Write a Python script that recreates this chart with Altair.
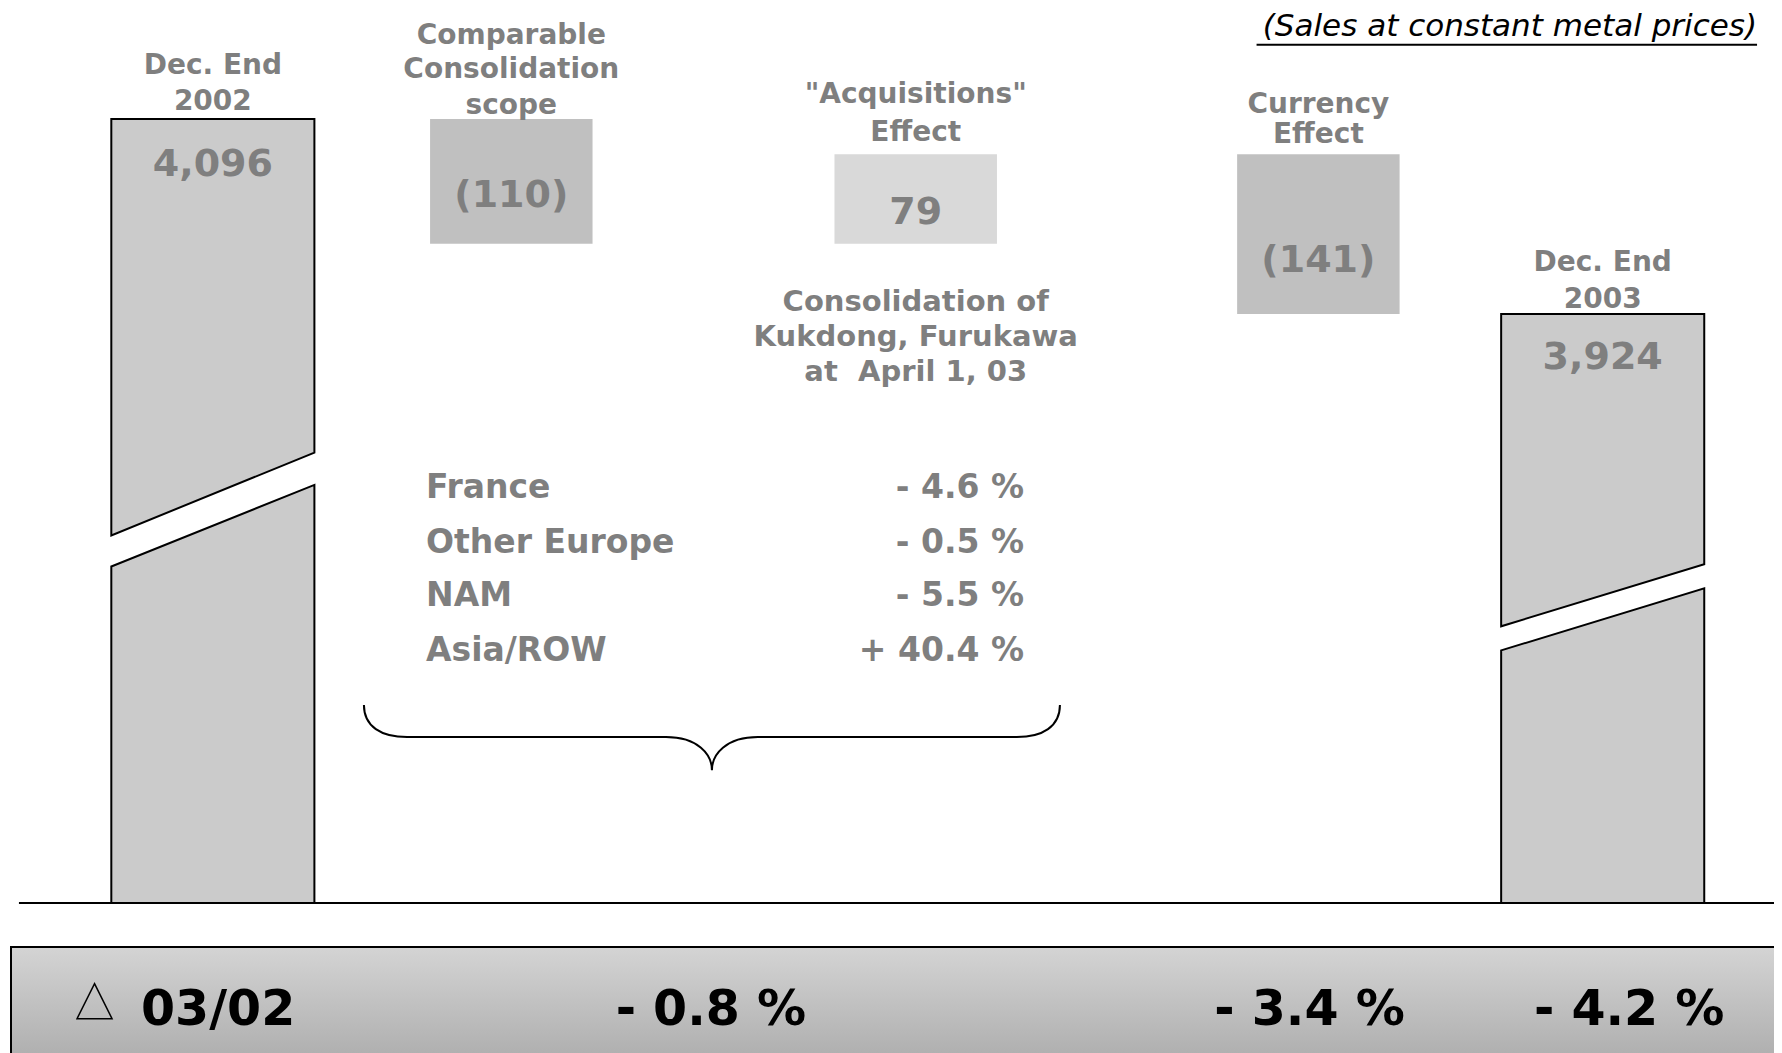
import altair as alt
import pandas as pd

# ---------------- data ----------------
steps = ["Dec. End 2002", "Comparable Consolidation scope", "\"Acquisitions\" Effect",
         "Currency Effect", "Dec. End 2003"]
kinds = ["total", "delta", "delta", "delta", "total"]
amounts = [4096, -110, 79, -141, 3924]
value_labels = ["4,096", "(110)", "79", "(141)", "3,924"]
step_label_lines = [["Dec. End", "2002"],
                    ["Comparable", "Consolidation", "scope"],
                    ['"Acquisitions"', "Effect"],
                    ["Currency", "Effect"],
                    ["Dec. End", "2003"]]
note_lines = ["Consolidation of", "Kukdong, Furukawa", "at\u00a0 April 1, 03"]
regions = ["France", "Other Europe", "NAM", "Asia/ROW"]
region_growth = [-4.6, -0.5, -5.5, 40.4]
delta_symbol_label = "03/02"
band_values = ["- 0.8 %", "- 3.4 %", "- 4.2 %"]
subtitle = "(Sales at constant metal prices)"

# ---------------- layout / style ----------------
W, H = 1766, 1045
PX_PER_UNIT = 1.133
Y_MAX = 4194.0
Y_MIN = Y_MAX - H / PX_PER_UNIT         # visible value range of the (truncated) axis
X_MAX = 100
BASE = 3404.1                           # value sitting on the drawn base line
x_center = [11.6, 28.5, 51.4, 74.2, 90.3]   # % of plot width
half_w = {"total": 5.75, "delta": 4.6}
fills = ["#cbcbcb", "#c0c0c0", "#d9d9d9", "#c0c0c0", "#cbcbcb"]
# axis-break cut lines for the two total bars: (upper piece bottom L/R), (lower piece top L/R)
breaks = {0: ((3728.5, 3801.6), (3701.1, 3773.1)), 4: ((3648.3, 3703.1), (3627.0, 3681.8))}
label_y = [[4143.2, 4110.6], [4169.4, 4139.4, 4107.6], [4117.6, 4084.1],
           [4108.3, 4081.9], [3968.7, 3936.1]]
value_y = [4055.4, 4028.4, 4013.4, 3971.1, 3885.0]
note_x, note_y = 51.4, [3934.4, 3903.6, 3872.6]
reg_left_x, reg_right_x = 23.67, 57.53
reg_y = [3770.2, 3721.6, 3674.9, 3626.3]
brace_x, brace_y = 39.86, 3550.5
band_top, band_bottom = 3365.2, 3240.0
band_text_y = 3309.9
band_value_x = [39.8, 73.7, 91.8]
tri_x, tri_y = 4.9, 3317.4
period_x = 7.53
sub_x, sub_y, sub_line_y, sub_line_x0 = 99.04, 4177.6, 4161.5, 70.7
GRAY = "#7f7f7f"
FONT = "DejaVu Sans"

xs = alt.Scale(domain=[0, X_MAX], nice=False, zero=False)
ys = alt.Scale(domain=[Y_MIN, Y_MAX], nice=False, zero=False)


def X(f):
    return alt.X(f"{f}:Q", scale=xs, axis=None)


def Y(f):
    return alt.Y(f"{f}:Q", scale=ys, axis=None)


# ---------------- build tables ----------------
level = 0
delta_rows, area_rows = [], []
for i, k in enumerate(kinds):
    l, r = x_center[i] - half_w[k], x_center[i] + half_w[k]
    if k == "total":
        level = amounts[i]
        (ul, ur), (ll, lr) = breaks[i]
        area_rows += [
            dict(piece=f"{i}top", x=l, y=amounts[i], y2=ul),
            dict(piece=f"{i}top", x=r, y=amounts[i], y2=ur),
            dict(piece=f"{i}bot", x=l, y=ll, y2=BASE),
            dict(piece=f"{i}bot", x=r, y=lr, y2=BASE),
        ]
    else:
        start, end = level, level + amounts[i]
        delta_rows.append(dict(step=steps[i], x0=l, x1=r, start=start, end=end, fill=fills[i]))
        level = end

areas = alt.Chart(pd.DataFrame(area_rows)).mark_area(
    orient="vertical", fill=fills[0], stroke="black", strokeWidth=2, interpolate="linear"
).encode(x=X("x"), y=Y("y"), y2="y2", detail="piece:N")

boxes = alt.Chart(pd.DataFrame(delta_rows)).mark_rect().encode(
    x=X("x0"), x2="x1", y=Y("start"), y2="end", color=alt.Color("fill:N", scale=None)
)

base_line = alt.Chart(pd.DataFrame([dict(x0=0.62, x1=X_MAX + 1, y=BASE)])).mark_rule(
    color="black", strokeWidth=2
).encode(x=X("x0"), x2="x1", y=Y("y"))

# gray centred labels
g_rows = []
for i, lines in enumerate(step_label_lines):
    for j, t in enumerate(lines):
        g_rows.append(dict(x=x_center[i], y=label_y[i][j], text=t, fs=28))
for i, t in enumerate(value_labels):
    g_rows.append(dict(x=x_center[i], y=value_y[i], text=t, fs=38))
for j, t in enumerate(note_lines):
    g_rows.append(dict(x=note_x, y=note_y[j], text=t, fs=29))
gray_text = alt.Chart(pd.DataFrame(g_rows)).mark_text(
    font=FONT, fontWeight="bold", color=GRAY, align="center", baseline="middle"
).encode(x=X("x"), y=Y("y"), text="text:N", size=alt.Size("fs:Q", scale=None))

reg_df = pd.DataFrame(dict(
    region=regions,
    growth=[("- " if v < 0 else "+ ") + f"{abs(v):.1f} %" for v in region_growth],
    xl=[reg_left_x] * len(regions), xr=[reg_right_x] * len(regions), y=reg_y))
reg_names = alt.Chart(reg_df).mark_text(
    font=FONT, fontWeight="bold", color=GRAY, align="left", baseline="middle", fontSize=33
).encode(x=X("xl"), y=Y("y"), text="region:N")
reg_vals = alt.Chart(reg_df).mark_text(
    font=FONT, fontWeight="bold", color=GRAY, align="right", baseline="middle", fontSize=33
).encode(x=X("xr"), y=Y("y"), text="growth:N")

brace_path = ("M -1 -0.092 C -1 -0.03 -0.95 0 -0.876 0 L -0.132 0 C -0.04 0 0 0.05 0 0.095 "
              "C 0 0.05 0.04 0 0.132 0 L 0.876 0 C 0.95 0 1 -0.03 1 -0.092")
brace = alt.Chart(pd.DataFrame([dict(x=brace_x, y=brace_y)])).mark_point(
    shape=brace_path, size=696 * 696, filled=False, stroke="black", strokeWidth=2, opacity=1
).encode(x=X("x"), y=Y("y"))

sub_df = pd.DataFrame([dict(x=sub_x, y=sub_y, x0=sub_line_x0, yl=sub_line_y, text=subtitle)])
sub_text = alt.Chart(sub_df).mark_text(
    font=FONT, fontStyle="italic", color="black", align="right", baseline="middle", fontSize=31
).encode(x=X("x"), y=Y("y"), text="text:N")
sub_line = alt.Chart(sub_df).mark_rule(color="black", strokeWidth=2).encode(
    x=X("x0"), x2="x", y=Y("yl"))

band = alt.Chart(pd.DataFrame([dict(x0=0.17, x1=X_MAX + 2, y=band_top, y2=band_bottom)])).mark_rect(
    fill=alt.Gradient(gradient="linear",
                      stops=[alt.GradientStop(color="#d4d4d4", offset=0),
                             alt.GradientStop(color="#a4a4a4", offset=1)],
                      x1=0, x2=0, y1=0, y2=1),
    stroke="black", strokeWidth=2
).encode(x=X("x0"), x2="x1", y=Y("y"), y2="y2")

band_df = pd.DataFrame(dict(x=band_value_x, y=[band_text_y] * 3, text=band_values))
band_text = alt.Chart(band_df).mark_text(
    font=FONT, fontWeight="bold", color="black", align="center", baseline="middle", fontSize=49
).encode(x=X("x"), y=Y("y"), text="text:N")
period_text = alt.Chart(pd.DataFrame([dict(x=period_x, y=band_text_y, text=delta_symbol_label)])).mark_text(
    font=FONT, fontWeight="bold", color="black", align="left", baseline="middle", fontSize=49
).encode(x=X("x"), y=Y("y"), text="text:N")
triangle = alt.Chart(pd.DataFrame([dict(x=tri_x, y=tri_y)])).mark_point(
    shape="M 0 -1 L 1 1 L -1 1 Z", size=35 * 35, filled=False, stroke="black",
    strokeWidth=1.5, opacity=1
).encode(x=X("x"), y=Y("y"))

chart = alt.layer(
    band, areas, boxes, base_line, gray_text, reg_names, reg_vals, brace,
    sub_text, sub_line, band_text, period_text, triangle
).properties(
    width=W, height=H, autosize=alt.AutoSizeParams(type="none"), padding=0,
    background="white"
).configure_view(strokeWidth=0, stroke=None)

chart.save("out.html", embed_options={"renderer": "svg", "actions": False})
